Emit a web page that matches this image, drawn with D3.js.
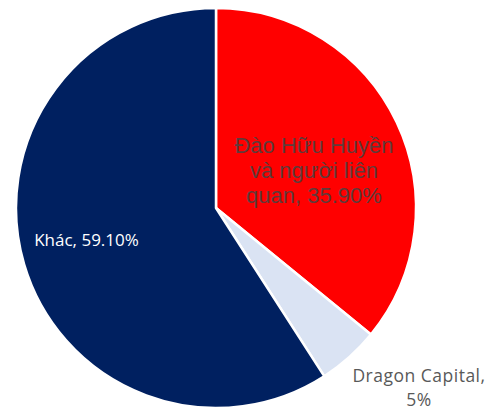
<!DOCTYPE html>
<html>
<head>
<meta charset="utf-8">
<script src="https://cdn.jsdelivr.net/npm/d3@7"></script>
<style>
  html, body { margin: 0; padding: 0; background: #fff; }
  svg { display: block; }
</style>
</head>
<body>
<svg id="chart" width="500" height="412"></svg>
<script>
// Ownership structure
const categories = ["Đào Hữu Huyền và người liên quan", "Dragon Capital", "Khác"];
const shares = [35.9, 5, 59.1];
const shareLabels = ["35.90%", "5%", "59.10%"];
const colors = ["#FF0000", "#DAE3F3", "#002060"];

const cx = 216, cy = 208, radius = 200;

const svg = d3.select("#chart");
const g = svg.append("g").attr("transform", `translate(${cx},${cy})`);

const pie = d3.pie().sort(null).value(d => d.value);
const arcs = pie(categories.map((c, i) => ({ name: c, value: shares[i], color: colors[i] })));
const arc = d3.arc().innerRadius(0).outerRadius(radius);

g.selectAll("path.slice")
  .data(arcs)
  .join("path")
  .attr("class", "slice")
  .attr("d", arc)
  .attr("fill", d => d.data.color)
  .attr("stroke", "#fff")
  .attr("stroke-width", 2.5)
  .attr("stroke-linejoin", "round");

// Data labels: wrapped lines, centred on an anchor point per slice
const labelSpecs = [
  { lines: ["Đào Hữu Huyền", "và người liên", "quan, " + shareLabels[0]],
    size: 22, color: "#5e3b3b", family: "'Liberation Sans', Arial, sans-serif", lh: 25 },
  { lines: ["Dragon Capital,", shareLabels[1]],
    size: 17.5, color: "#595959", family: "'Open Sans', 'Noto Sans', sans-serif", lh: 24, ls: 0.5 },
  { lines: ["Khác, " + shareLabels[2]],
    size: 17, color: "#ffffff", family: "'Open Sans', 'Noto Sans', sans-serif", lh: 20 }
];

const labelPos = [
  [314 - cx, 153 - cy],
  [419 - cx, 382 - cy],
  [86.5 - cx, 245.5 - cy]
];

arcs.forEach((a, i) => {
  const s = labelSpecs[i];
  const t = g.append("text")
    .attr("text-anchor", "middle")
    .attr("font-family", s.family)
    .attr("font-size", s.size)
    .attr("letter-spacing", s.ls || 0)
    .attr("fill", s.color);
  s.lines.forEach((ln, j) => {
    t.append("tspan")
      .attr("x", labelPos[i][0])
      .attr("y", labelPos[i][1] + j * s.lh)
      .text(ln);
  });
});
</script>
</body>
</html>
